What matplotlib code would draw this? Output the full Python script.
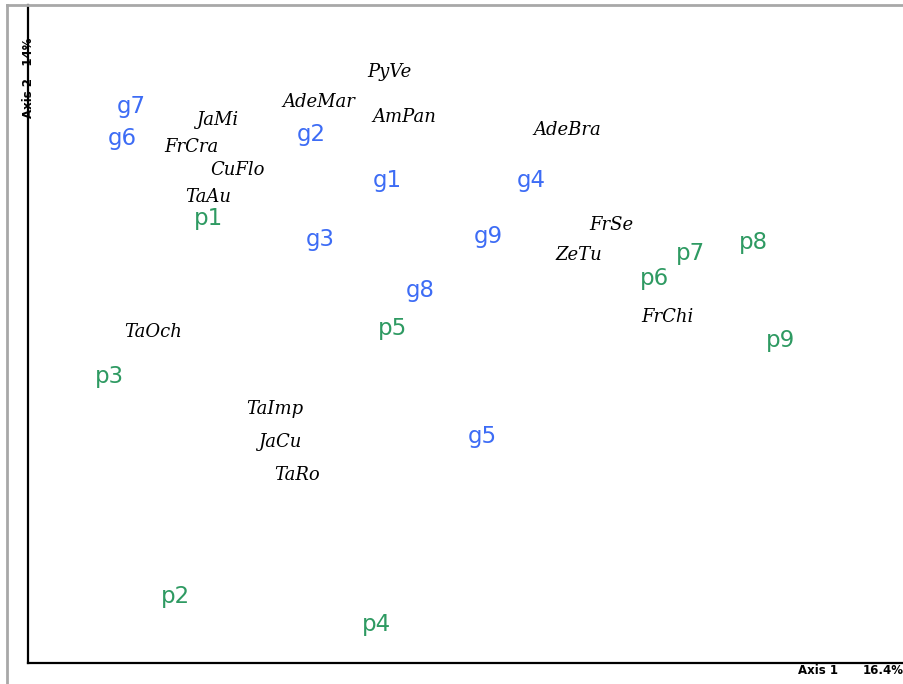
# Ordination plot: sites (g, p) and species labels on axes 1 and 2.
import matplotlib.pyplot as plt
from matplotlib.lines import Line2D

# group scores (blue)
g_labels = ["g1", "g2", "g3", "g4", "g5", "g6", "g7", "g8", "g9"]
g_x = [3.59, 2.83, 2.92, 5.03, 4.54, 0.94, 1.03, 3.92, 4.60]
g_y = [4.83, 5.29, 4.23, 4.83, 2.26, 5.24, 5.57, 3.73, 4.27]

# plot scores (green)
p_labels = ["p1", "p2", "p3", "p4", "p5", "p6", "p7", "p8", "p9"]
p_x = [1.80, 1.47, 0.81, 3.48, 3.64, 6.27, 6.62, 7.25, 7.52]
p_y = [4.45, 0.67, 2.86, 0.39, 3.34, 3.84, 4.10, 4.21, 3.23]

# species scores (black italic)
sp_labels = ["PyVe", "AdeMar", "AmPan", "JaMi", "AdeBra", "FrCra", "CuFlo",
             "TaAu", "FrSe", "ZeTu", "FrChi", "TaOch", "TaImp", "JaCu", "TaRo"]
sp_x = [3.61, 2.91, 3.76, 1.89, 5.39, 1.63, 2.10, 1.80, 5.83, 5.51, 6.39,
        1.25, 2.47, 2.52, 2.69]
sp_y = [5.91, 5.61, 5.46, 5.43, 5.33, 5.16, 4.93, 4.66, 4.38, 4.08, 3.46,
        3.31, 2.54, 2.21, 1.88]

W, H = 904, 684
fig = plt.figure(figsize=(W / 100, H / 100), dpi=100)
ax = fig.add_axes([28 / W, (H - 663) / H, (W - 28) / W, (663 - 5) / H])

for lab, x, y in zip(g_labels, g_x, g_y):
    ax.text(x, y, lab, color="#3d6cf5", fontsize=16.5, family="DejaVu Sans",
            ha="center", va="center")
for lab, x, y in zip(p_labels, p_x, p_y):
    ax.text(x, y, lab, color="#2e9a62", fontsize=16.5, family="DejaVu Sans",
            ha="center", va="center")
for lab, x, y in zip(sp_labels, sp_x, sp_y):
    ax.text(x, y, lab, color="black", fontsize=13, family="DejaVu Serif",
            style="italic", ha="center", va="center")

ax.set_xlim(0, 8.76)
ax.set_ylim(0, 6.58)
ax.set_xticks([])
ax.set_yticks([])
ax.spines["top"].set_visible(False)
ax.spines["right"].set_visible(False)
ax.spines["left"].set_linewidth(1.6)
ax.spines["bottom"].set_linewidth(1.6)

# axis titles
fig.text(29 / W, 1 - 78 / H, "Axis 2   14%", rotation=90, fontsize=8.5,
         fontweight="bold", ha="center", va="center")
fig.text(838 / W, 1 - 671 / H, "Axis 1", fontsize=8.5, fontweight="bold",
         ha="right", va="center")
fig.text(904 / W, 1 - 671 / H, "16.4%", fontsize=8.5, fontweight="bold",
         ha="right", va="center")

# grey window frame
fig.add_artist(Line2D([7 / W, 1], [1 - 5 / H, 1 - 5 / H], color="#a8a8a8", lw=2))
fig.add_artist(Line2D([7 / W, 7 / W], [0, 1 - 5 / H], color="#a8a8a8", lw=2))

fig.savefig("out.png", dpi=100)
